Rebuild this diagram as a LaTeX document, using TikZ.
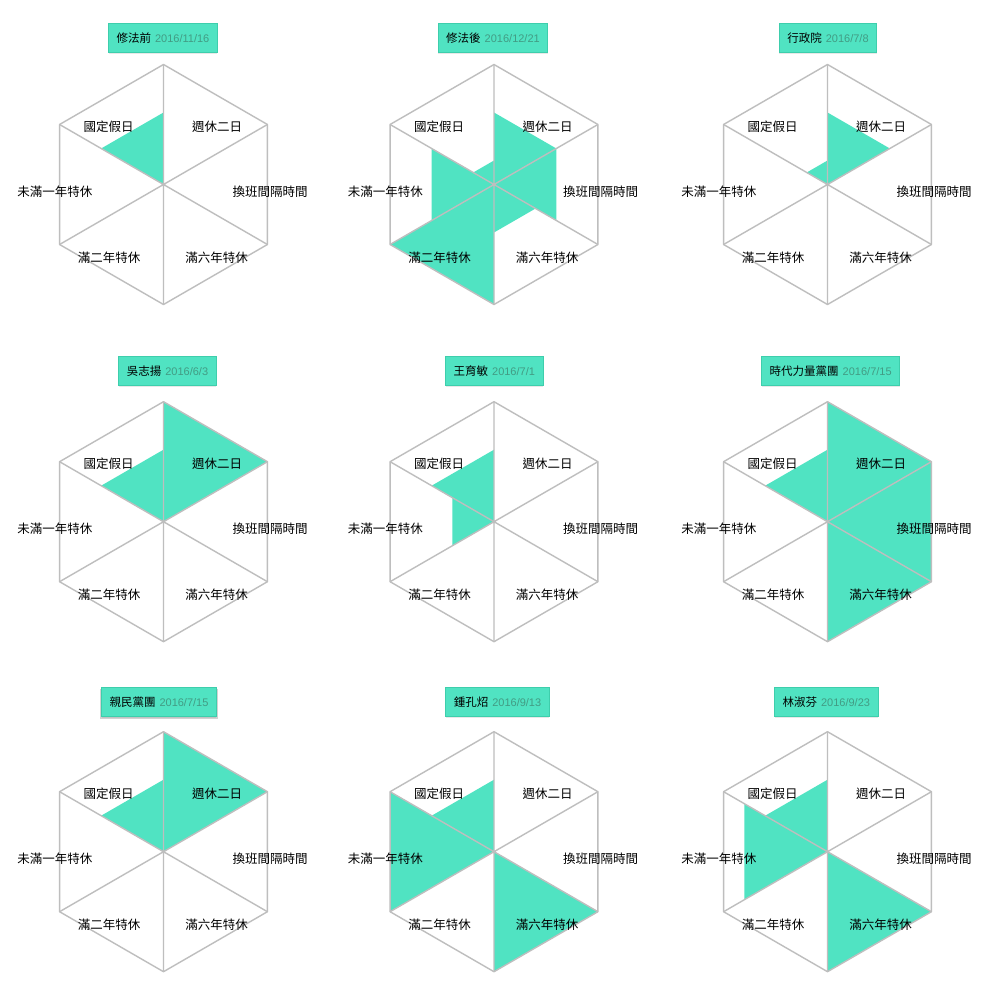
\documentclass[tikz,border=0pt]{standalone}
\usepackage{fontspec}
\setmainfont{Noto Sans CJK TC}
\newfontfamily\datefont{Liberation Sans}
\usetikzlibrary{shadows}
\definecolor{mint}{RGB}{80,227,194}
\definecolor{mintborder}{RGB}{62,206,172}
\definecolor{gridgray}{RGB}{190,190,190}
\definecolor{dategray}{RGB}{66,156,132}
\tikzset{
  gridline/.style={draw=gridgray, line width=1.4pt, line join=round},
  sectorfill/.style={fill=mint},
  axislabel/.style={font=\fontsize{12.5}{14}\selectfont, inner sep=0pt, text=black},
  titlebox/.style={fill=mint, draw=mintborder, line width=0.8pt, inner xsep=8pt,
    inner ysep=0pt, minimum height=29pt, font=\fontsize{11.5}{13}\selectfont,
    drop shadow={opacity=0.18, shadow xshift=0pt, shadow yshift=-1.2pt}},
  hoverbox/.style={drop shadow={opacity=0.35, shadow xshift=0pt, shadow yshift=-2pt, shadow scale=1.02}},
}
\newcommand\datetext[1]{\hspace{4pt}{\datefont\fontsize{11}{13}\selectfont\color{dategray}#1}}
% #1 id, #2 cx, #3 cy, #4 title x, #5 title y, #6 title, #7 values, #8 extra title style
\newcommand\radarchart[8]{%
  \begin{scope}[shift={(#2,-#3)}]
    \foreach \v [count=\i from 0] in {#7} {
      \fill[sectorfill] (0,0) -- ({150-60*\i}:{\v*120}) -- ({90-60*\i}:{\v*120}) -- cycle;
    }
    \draw[gridline] (90:120) -- (30:120) -- (-30:120) -- (-90:120) -- (-150:120) -- (150:120) -- cycle;
    \draw[gridline] (90:120) -- (-90:120) (30:120) -- (-150:120) (-30:120) -- (150:120);
    \node[axislabel] (#1-a1) at (-55,58) {國定假日};
    \node[axislabel] (#1-a2) at (53.5,58) {週休二日};
    \node[axislabel, anchor=west] (#1-a3) at (69,-7.4) {換班間隔時間};
    \node[axislabel] (#1-a4) at (53,-73) {滿六年特休};
    \node[axislabel] (#1-a5) at (-54.5,-73) {滿二年特休};
    \node[axislabel, anchor=east] (#1-a6) at (-71,-7.4) {未滿一年特休};
  \end{scope}
  \node[titlebox, #8] (#1-t) at (#4,-#5) {#6};
}
\begin{document}
\begin{tikzpicture}[x=1pt, y=1pt]
  \useasboundingbox[fill=white] (0,-1000) rectangle (1000,0);
  \radarchart{c1}{163.5}{184.5}{163}{38}{修法前\datetext{2016/11/16}}{0.6,0,0,0,0,0}{}
  \radarchart{c2}{494}{184.5}{493}{38}{修法後\datetext{2016/12/21}}{0.2,0.6,0.6,0.4,1,0.6}{}
  \radarchart{c3}{827.5}{184.5}{828}{38}{行政院\datetext{2016/7/8}}{0.2,0.6,0,0,0,0}{}
  \radarchart{c4}{163.5}{521.7}{167.5}{371}{吳志揚\datetext{2016/6/3}}{0.6,1,0,0,0,0}{}
  \radarchart{c5}{494}{521.7}{494.3}{371}{王育敏\datetext{2016/7/1}}{0.6,0,0,0,0,0.4}{}
  \radarchart{c6}{827.5}{521.7}{830.7}{371}{時代力量黨團\datetext{2016/7/15}}{0.6,1,1,1,0,0}{}
  \radarchart{c7}{163.5}{851.7}{159}{702}{親民黨團\datetext{2016/7/15}}{0.6,1,0,0,0,0}{hoverbox}
  \radarchart{c8}{494}{851.7}{497.5}{702}{鍾孔炤\datetext{2016/9/13}}{0.6,0,0,1,0,1}{}
  \radarchart{c9}{827.5}{851.7}{826.3}{702}{林淑芬\datetext{2016/9/23}}{0.6,0,0,1,0,0.8}{}
\end{tikzpicture}
\end{document}
